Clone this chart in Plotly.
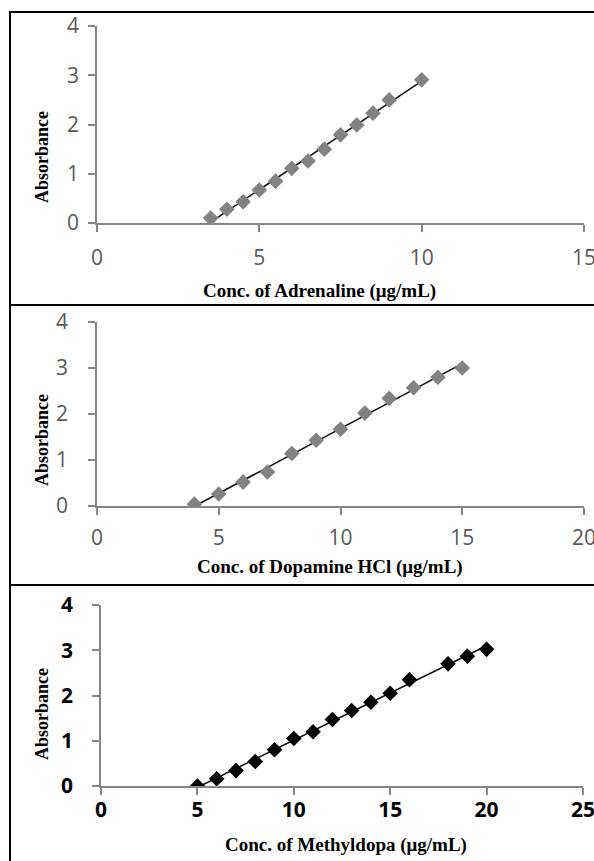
import numpy as np
import plotly.graph_objects as go

W, H = 594, 861

# ---------------- data ----------------
adr_x = [3.5, 4, 4.5, 5, 5.5, 6, 6.5, 7, 7.5, 8, 8.5, 9, 10]
adr_y = [0.10, 0.28, 0.43, 0.67, 0.85, 1.11, 1.26, 1.50, 1.79, 1.99, 2.23, 2.50, 2.91]

dop_x = [4, 5, 6, 7, 8, 9, 10, 11, 12, 13, 14, 15]
dop_y = [0.04, 0.26, 0.52, 0.74, 1.14, 1.43, 1.67, 2.02, 2.34, 2.57, 2.80, 3.00]

met_x = [5, 6, 7, 8, 9, 10, 11, 12, 13, 14, 15, 16, 18, 19, 20]
met_y = [0.00, 0.16, 0.34, 0.54, 0.80, 1.05, 1.20, 1.47, 1.67, 1.85, 2.05, 2.35, 2.70, 2.87, 3.02]

y_ticks = [0, 1, 2, 3, 4]
x_ticks_1 = [0, 5, 10, 15]
x_ticks_2 = [0, 5, 10, 15, 20]
x_ticks_3 = [0, 5, 10, 15, 20, 25]

x_titles = ["Conc. of Adrenaline (μg/mL)",
            "Conc. of Dopamine HCl (μg/mL)",
            "Conc. of Methyldopa (μg/mL)"]
y_title = "Absorbance"

# ---------------- layout helpers ----------------
def px(x):
    return x / W

def py(y):
    return 1 - y / H

panels = [
    dict(x0=97, x1=584, yt=26, yb=223, xmax=15, xs=adr_x, ys=adr_y, xt=x_ticks_1,
         mc="#828282", bold=False, tcol="#595959", xls=8, yls=5,
         tx=(319, 291), ty=(42, 157)),
    dict(x0=97, x1=584, yt=322, yb=506, xmax=20, xs=dop_x, ys=dop_y, xt=x_ticks_2,
         mc="#828282", bold=False, tcol="#595959", xls=5, yls=16,
         tx=(330, 567), ty=(42, 440)),
    dict(x0=101, x1=583, yt=605, yb=786, xmax=25, xs=met_x, ys=met_y, xt=x_ticks_3,
         mc="#000000", bold=True, tcol="#000000", xls=-3, yls=15,
         tx=(346, 845), ty=(42, 714)),
]

fig = go.Figure()
axis_col = "#868686"
layout = {}
annotations = []

for i, p in enumerate(panels, start=1):
    sfx = "" if i == 1 else str(i)
    xa, ya = "x" + sfx, "y" + sfx
    k, b = np.polyfit(p["xs"], p["ys"], 1)
    xl = np.array([min(p["xs"]), max(p["xs"])])
    fig.add_trace(go.Scatter(x=xl, y=k * xl + b, mode="lines",
                             line=dict(color="#111111", width=1.6),
                             xaxis=xa, yaxis=ya, showlegend=False,
                             hoverinfo="skip"))
    fig.add_trace(go.Scatter(x=p["xs"], y=p["ys"], mode="markers",
                             marker=dict(symbol="diamond", size=12, color=p["mc"],
                                         line=dict(width=0)),
                             xaxis=xa, yaxis=ya, showlegend=False))
    tfont = dict(family="Open Sans, sans-serif", size=21, color=p["tcol"],
                 weight="bold" if p["bold"] else "normal")
    layout["xaxis" + sfx] = dict(
        domain=[px(p["x0"]), px(p["x1"])], anchor=ya, range=[0, p["xmax"]],
        tickvals=p["xt"], ticktext=[str(v) for v in p["xt"]],
        showline=True, linecolor=axis_col, linewidth=1.5,
        ticks="outside", ticklen=7, tickwidth=1.5, tickcolor=axis_col,
        showgrid=False, zeroline=False, tickfont=tfont, automargin=False,
        ticklabelstandoff=p["xls"], ticklabeloverflow="allow", fixedrange=True)
    layout["yaxis" + sfx] = dict(
        domain=[py(p["yb"]), py(p["yt"])], anchor=xa, range=[0, 4],
        tickvals=y_ticks, ticktext=[str(v) for v in y_ticks],
        showline=True, linecolor=axis_col, linewidth=1.5,
        ticks="outside", ticklen=7, tickwidth=1.5, tickcolor=axis_col,
        showgrid=False, zeroline=False, tickfont=tfont, automargin=False,
        ticklabelstandoff=p["yls"], ticklabeloverflow="allow", fixedrange=True)
    annotations.append(dict(text=x_titles[i - 1], xref="paper", yref="paper",
                            x=px(p["tx"][0]), y=py(p["tx"][1]), showarrow=False,
                            xanchor="center", yanchor="middle",
                            font=dict(family="Liberation Serif, Times New Roman, serif",
                                      size=19, color="#000000", weight="bold")))
    annotations.append(dict(text=y_title, xref="paper", yref="paper",
                            x=px(p["ty"][0]), y=py(p["ty"][1]), showarrow=False,
                            xanchor="center", yanchor="middle", textangle=-90,
                            font=dict(family="Liberation Serif, Times New Roman, serif",
                                      size=18, color="#000000", weight="bold")))

shapes = []
for yb in [12, 305, 585]:
    shapes.append(dict(type="line", xref="paper", yref="paper",
                       x0=px(9), x1=1.01, y0=py(yb), y1=py(yb),
                       line=dict(color="#000000", width=2)))
shapes.append(dict(type="line", xref="paper", yref="paper",
                   x0=px(10), x1=px(10), y0=py(11), y1=-0.01,
                   line=dict(color="#000000", width=2)))

fig.update_layout(width=W, height=H, margin=dict(l=0, r=0, t=0, b=0, autoexpand=False),
                  paper_bgcolor="white", plot_bgcolor="white",
                  annotations=annotations, shapes=shapes, **layout)

fig.write_html("out.html", config={"displayModeBar": False},
               post_script="document.body.style.margin='0';document.body.style.overflow='hidden';")
